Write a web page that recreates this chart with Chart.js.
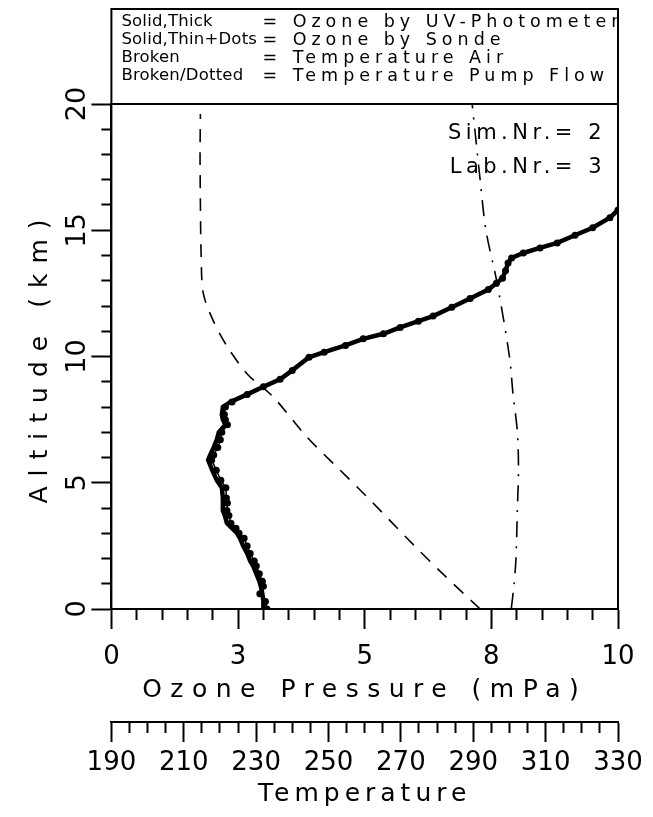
<!DOCTYPE html>
<html>
<head>
<meta charset="utf-8">
<script src="https://cdn.jsdelivr.net/npm/chart.js@4.4.1/dist/chart.umd.min.js"></script>
<style>
  html, body { margin: 0; padding: 0; background: #fff; }
  #wrap { width: 653px; height: 817px; }
</style>
</head>
<body>
<div id="wrap"><canvas id="chart"></canvas></div>
<script>
// altitude levels (km) for both ozone profiles
const ozoneAltitudes = [0, 0.3, 0.6, 0.9, 1.1, 1.4, 1.7, 1.9, 2.2, 2.5, 2.8, 3.0, 3.2, 3.4, 3.7, 3.9, 4.2, 4.4, 4.8, 5.1,
  5.5, 5.9, 6.1, 6.4, 6.7, 7.0, 7.3, 7.5, 7.7, 8.0, 8.2, 8.5, 8.8, 9.1, 9.45, 9.97, 10.17, 10.44, 10.7, 10.9,
  11.15, 11.4, 11.6, 11.95, 12.3, 12.65, 12.9, 13.1, 13.4, 13.7, 13.9, 14.1, 14.3, 14.5, 14.8, 15.1, 15.5, 15.8, 16.1];
// ozone partial pressure (mPa)
const ozoneUV = [3.0, 3.0, 2.98, 2.95, 2.92, 2.86, 2.8, 2.74, 2.68, 2.6, 2.54, 2.48, 2.38, 2.28, 2.24, 2.2, 2.2, 2.2, 2.18, 2.08,
  1.99, 1.91, 1.95, 2.02, 2.08, 2.12, 2.25, 2.2, 2.18, 2.2, 2.35, 2.68, 3.0, 3.33, 3.57, 3.9, 4.2, 4.62, 4.97, 5.37,
  5.7, 6.06, 6.35, 6.72, 7.08, 7.44, 7.6, 7.72, 7.78, 7.83, 7.9, 8.13, 8.46, 8.8, 9.15, 9.5, 9.84, 10.0, 10.4];
const ozoneSonde = [3.07, 3.04, 2.93, 3.0, 2.98, 2.92, 2.86, 2.82, 2.74, 2.68, 2.62, 2.52, 2.46, 2.36, 2.32, 2.28, 2.29, 2.27, 2.26, 2.16,
  2.07, 1.98, 2.02, 2.1, 2.15, 2.18, 2.29, 2.25, 2.23, 2.25, 2.38, 2.68, 3.0, 3.33, 3.57, 3.9, 4.2, 4.62, 4.97, 5.37,
  5.7, 6.06, 6.35, 6.72, 7.08, 7.44, 7.6, 7.72, 7.78, 7.83, 7.9, 8.13, 8.46, 8.8, 9.15, 9.5, 9.84, 10.0, 10.4];

// temperatures (K)
const airAltitudes = [0, 1.5, 2.8, 4.2, 5.5, 6.8, 8.4, 9.3, 10.4, 11.4, 12.5, 14, 16, 18, 19.6];
const tempAir = [291.9, 280.8, 271.7, 262.3, 253.2, 244.1, 234.7, 227.6, 222.0, 218.2, 215.4, 214.8, 214.6, 214.5, 214.6];
const pumpAltitudes = [0, 1, 2, 4, 5.5, 7, 8.5, 10, 12.9, 15, 17, 20];
const tempPump = [300.5, 301.3, 301.8, 302.2, 302.5, 302.2, 301.0, 300.0, 296.6, 293.5, 291.9, 289.7];

// axis labels
const ozoneTickLabels = ['0', '3', '5', '8', '10'];          // at 0, 2.5, 5, 7.5, 10 mPa
const tempTickLabels = ['190', '210', '230', '250', '270', '290', '310', '330'];
const altitudeTickLabels = ['0', '5', '10', '15', '20'];

const legendKeys = ['Solid,Thick', 'Solid,Thin+Dots', 'Broken', 'Broken/Dotted'];
const legendTexts = ['= Ozone by UV-Photometer', '= Ozone by Sonde', '= Temperature Air', '= Temperature Pump Flow'];
const runInfo = ['Sim.Nr.= 2', 'Lab.Nr.= 3'];

const FONT = '"DejaVu Sans", sans-serif';
const titleSpacing = { x: '8.5px', x2: '5px', y: '10px' };

const toPoints = (xs, ys) => xs.map((v, i) => ({ x: v, y: ys[i] }));

// major ticks long, minor ticks short (dash trick on the tick line)
const TL = 20, MINOR = 10;
const minorBottom = major => major ? [] : [MINOR, 100];
const minorLeft = major => major ? [] : [0, TL - MINOR, MINOR, 100];

// axis titles drawn with wide letter spacing like the plotter font
const spacedTitles = {
  id: 'spacedTitles',
  beforeDraw(chart) {
    Object.values(chart.scales).forEach(s => {
      if (s._spacedTitle) return;
      const orig = s.drawTitle;
      s.drawTitle = function () {
        const ctx = this.ctx;
        ctx.save();
        ctx.letterSpacing = titleSpacing[this.id] || '0px';
        orig.apply(this, arguments);
        ctx.restore();
      };
      s._spacedTitle = true;
    });
  }
};

const framePlugin = {
  id: 'frame',
  afterDraw(chart) {
    const { ctx, chartArea: a } = chart;
    ctx.save();
    ctx.strokeStyle = '#000';
    ctx.lineWidth = 2;
    ctx.strokeRect(a.left, a.top, a.right - a.left, a.bottom - a.top);
    const boxTop = 9;
    ctx.strokeRect(a.left, boxTop, a.right - a.left, a.top - boxTop);
    ctx.beginPath();
    ctx.rect(a.left, boxTop, a.right - a.left - 1, a.top - boxTop);
    ctx.clip();
    ctx.fillStyle = '#000';
    ctx.textBaseline = 'middle';
    legendKeys.forEach((k, i) => {
      const y = boxTop + 13 + i * 18;
      ctx.font = '16.5px ' + FONT;
      ctx.letterSpacing = '0.2px';
      ctx.fillText(k, a.left + 10, y);
      ctx.font = '17.5px ' + FONT;
      ctx.letterSpacing = '5px';
      ctx.fillText(legendTexts[i], a.left + 151, y);
    });
    ctx.restore();

    ctx.save();
    ctx.fillStyle = '#000';
    ctx.font = '21px ' + FONT;
    ctx.letterSpacing = '4.5px';
    ctx.textBaseline = 'middle';
    ctx.textAlign = 'right';
    runInfo.forEach((t, i) => ctx.fillText(t, a.right - 12, a.top + 30 + i * 34));
    ctx.restore();
  }
};

new Chart(document.getElementById('chart'), {
  type: 'scatter',
  data: {
    datasets: [
      {
        label: 'Ozone by UV-Photometer',
        data: toPoints(ozoneUV, ozoneAltitudes),
        xAxisID: 'x',
        showLine: true,
        borderColor: '#000',
        borderWidth: 4.5,
        pointRadius: 0
      },
      {
        label: 'Ozone by Sonde',
        data: toPoints(ozoneSonde, ozoneAltitudes),
        xAxisID: 'x',
        showLine: true,
        borderColor: '#000',
        borderWidth: 1.5,
        pointRadius: 3.5,
        pointBackgroundColor: '#000',
        pointBorderWidth: 0
      },
      {
        label: 'Temperature Air',
        data: toPoints(tempAir, airAltitudes),
        xAxisID: 'x2',
        showLine: true,
        borderColor: '#000',
        borderWidth: 1.6,
        borderDash: [13, 10],
        tension: 0.3,
        pointRadius: 0
      },
      {
        label: 'Temperature Pump Flow',
        data: toPoints(tempPump, pumpAltitudes),
        xAxisID: 'x2',
        showLine: true,
        borderColor: '#000',
        borderWidth: 1.6,
        borderDash: [16, 9, 2, 9],
        tension: 0.3,
        pointRadius: 0
      }
    ]
  },
  options: {
    responsive: true,
    maintainAspectRatio: false,
    animation: false,
    layout: { padding: { top: 104, right: 35, left: 25, bottom: 3 } },
    plugins: { legend: { display: false }, tooltip: { enabled: false } },
    scales: {
      x: {
        type: 'linear',
        position: 'bottom',
        min: 0, max: 10,
        border: { color: '#000', width: 2 },
        grid: {
          drawOnChartArea: false, tickLength: TL, tickWidth: 2, tickColor: '#000',
          tickBorderDash: c => minorBottom(c.tick && Math.abs(c.tick.value * 2 % 5) < 1e-6)
        },
        ticks: {
          stepSize: 0.5, autoSkip: false, maxRotation: 0, padding: 15,
          color: '#000', font: { family: FONT, size: 26, lineHeight: 1.0 },
          callback: v => Math.abs(v * 2 % 5) < 1e-6 ? ozoneTickLabels[Math.round(v / 2.5)] : ''
        },
        title: {
          display: true, text: 'Ozone Pressure (mPa)', color: '#000',
          font: { family: FONT, size: 25 }, padding: { top: -10, bottom: 17 }
        }
      },
      x2: {
        type: 'linear',
        position: 'bottom',
        weight: 1,
        min: 190, max: 330,
        border: { color: '#000', width: 2 },
        grid: {
          drawOnChartArea: false, tickLength: TL, tickWidth: 2, tickColor: '#000',
          tickBorderDash: c => minorBottom(c.tick && (c.tick.value - 190) % 20 === 0)
        },
        ticks: {
          stepSize: 5, autoSkip: false, maxRotation: 0, padding: 8,
          color: '#000', font: { family: FONT, size: 26, lineHeight: 1.0 },
          callback: v => (v - 190) % 20 === 0 ? tempTickLabels[(v - 190) / 20] : ''
        },
        title: {
          display: true, text: 'Temperature', color: '#000',
          font: { family: FONT, size: 25 }, padding: { top: -5, bottom: 5 }
        }
      },
      y: {
        type: 'linear',
        position: 'left',
        min: 0, max: 20,
        border: { color: '#000', width: 2 },
        grid: {
          drawOnChartArea: false, tickLength: TL, tickWidth: 2, tickColor: '#000',
          tickBorderDash: c => minorLeft(c.tick && c.tick.value % 5 === 0)
        },
        ticks: {
          stepSize: 1, autoSkip: false, minRotation: 90, maxRotation: 90,
          crossAlign: 'center', padding: -4,
          color: '#000', font: { family: FONT, size: 27 },
          callback: v => v % 5 === 0 ? altitudeTickLabels[v / 5] : ''
        },
        title: {
          display: true, text: 'Altitude (km)', color: '#000',
          font: { family: FONT, size: 25 }, padding: { top: 0, bottom: 12 }
        }
      }
    }
  },
  plugins: [spacedTitles, framePlugin]
});
</script>
</body>
</html>
